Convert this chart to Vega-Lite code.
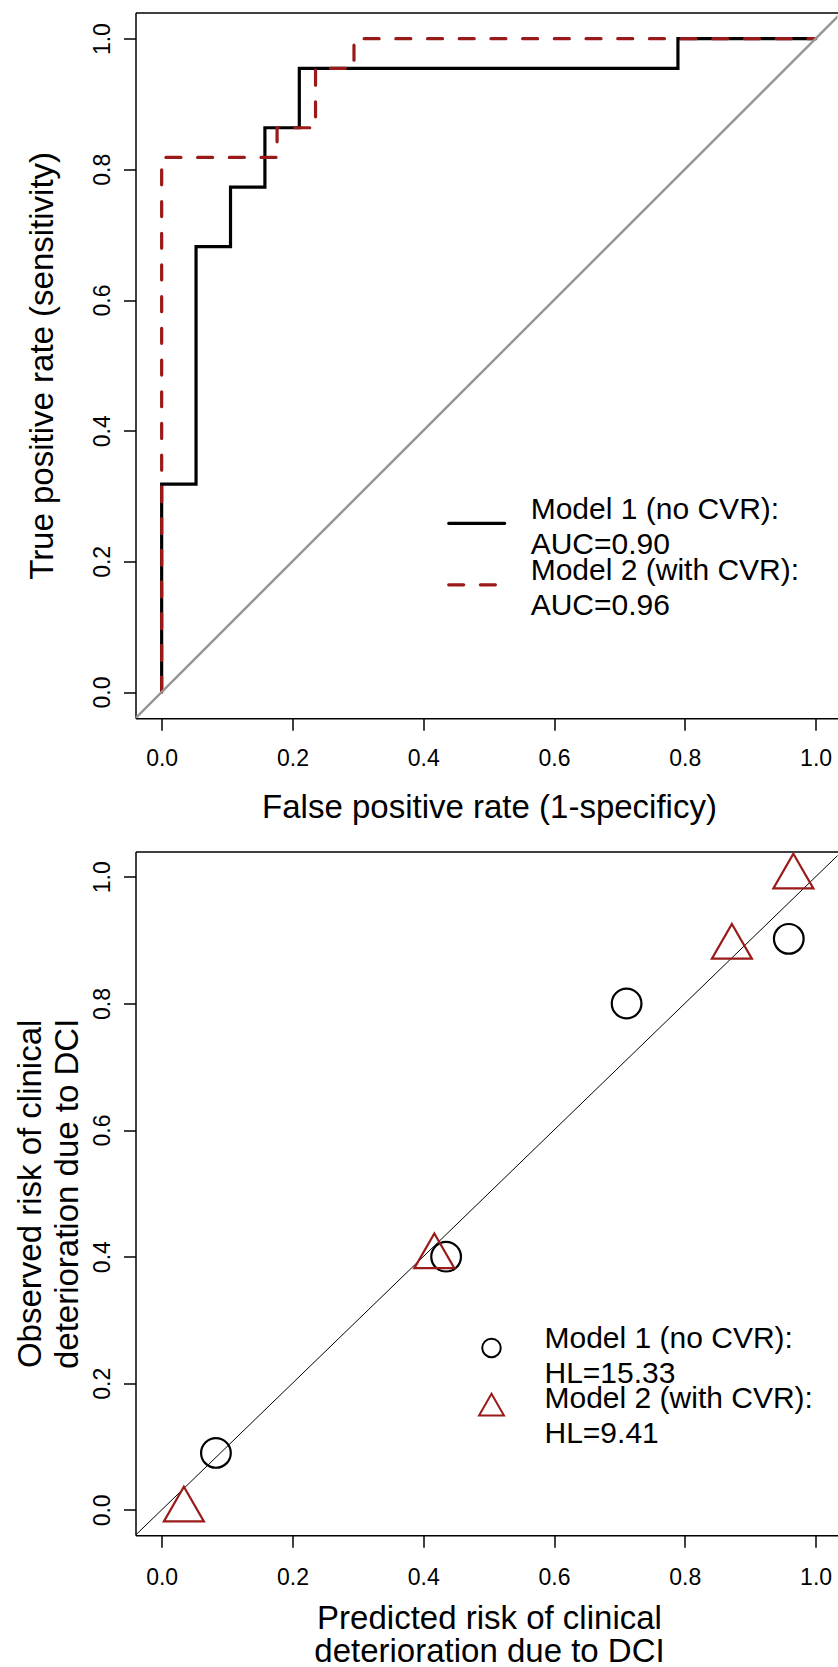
{
  "$schema": "https://vega.github.io/schema/vega-lite/v6.json",
  "background": "white",
  "padding": {"left": 14.5, "top": 12.5, "right": 0, "bottom": 0},
  "bounds": "flush",
  "spacing": 133,
  "config": {
    "font": "Liberation Sans",
    "view": {"stroke": null},
    "style": {"guide-label": {"lineHeight": 35}},
    "axis": {
      "grid": false,
      "domainColor": "black",
      "domainWidth": 1.5,
      "tickColor": "black",
      "tickWidth": 1.5,
      "tickSize": 12,
      "labelColor": "black",
      "labelFontSize": 23,
      "labelFont": "Liberation Sans",
      "labelFlush": false,
      "labelOverlap": false,
      "titleFont": "Liberation Sans",
      "titleFontSize": 33,
      "titleFontWeight": "normal",
      "titleColor": "black"
    },
    "legend": {
      "labelFont": "Liberation Sans",
      "labelColor": "black",
      "labelFontSize": 30,
      "labelLimit": 0,
      "padding": 0,
      "labelBaseline": "alphabetic"
    }
  },
  "resolve": {"scale": {"color": "independent", "shape": "independent", "strokeDash": "independent"}},
  "datasets": {
    "roc": [
      {"model": "Model 1 (no CVR):|AUC=0.90", "i": 1, "fpr": 0.0, "tpr": 0.0},
      {"model": "Model 1 (no CVR):|AUC=0.90", "i": 2, "fpr": 0.0, "tpr": 0.3182},
      {"model": "Model 1 (no CVR):|AUC=0.90", "i": 3, "fpr": 0.0526, "tpr": 0.3182},
      {"model": "Model 1 (no CVR):|AUC=0.90", "i": 4, "fpr": 0.0526, "tpr": 0.6818},
      {"model": "Model 1 (no CVR):|AUC=0.90", "i": 5, "fpr": 0.1053, "tpr": 0.6818},
      {"model": "Model 1 (no CVR):|AUC=0.90", "i": 6, "fpr": 0.1053, "tpr": 0.7727},
      {"model": "Model 1 (no CVR):|AUC=0.90", "i": 7, "fpr": 0.1579, "tpr": 0.7727},
      {"model": "Model 1 (no CVR):|AUC=0.90", "i": 8, "fpr": 0.1579, "tpr": 0.8636},
      {"model": "Model 1 (no CVR):|AUC=0.90", "i": 9, "fpr": 0.2105, "tpr": 0.8636},
      {"model": "Model 1 (no CVR):|AUC=0.90", "i": 10, "fpr": 0.2105, "tpr": 0.9545},
      {"model": "Model 1 (no CVR):|AUC=0.90", "i": 11, "fpr": 0.7895, "tpr": 0.9545},
      {"model": "Model 1 (no CVR):|AUC=0.90", "i": 12, "fpr": 0.7895, "tpr": 1.0},
      {"model": "Model 1 (no CVR):|AUC=0.90", "i": 13, "fpr": 1.0, "tpr": 1.0},
      {"model": "Model 2 (with CVR):|AUC=0.96", "i": 1, "fpr": 0.0, "tpr": 0.0},
      {"model": "Model 2 (with CVR):|AUC=0.96", "i": 2, "fpr": 0.0, "tpr": 0.8182},
      {"model": "Model 2 (with CVR):|AUC=0.96", "i": 3, "fpr": 0.1765, "tpr": 0.8182},
      {"model": "Model 2 (with CVR):|AUC=0.96", "i": 4, "fpr": 0.1765, "tpr": 0.8636},
      {"model": "Model 2 (with CVR):|AUC=0.96", "i": 5, "fpr": 0.2353, "tpr": 0.8636},
      {"model": "Model 2 (with CVR):|AUC=0.96", "i": 6, "fpr": 0.2353, "tpr": 0.9545},
      {"model": "Model 2 (with CVR):|AUC=0.96", "i": 7, "fpr": 0.2941, "tpr": 0.9545},
      {"model": "Model 2 (with CVR):|AUC=0.96", "i": 8, "fpr": 0.2941, "tpr": 1.0},
      {"model": "Model 2 (with CVR):|AUC=0.96", "i": 9, "fpr": 1.0, "tpr": 1.0}
    ],
    "diag1": [
      {"fpr": -0.04, "tpr": -0.04},
      {"fpr": 1.04, "tpr": 1.04}
    ],
    "cal": [
      {"series": "Model 1 (no CVR):|HL=15.33", "pred": 0.083, "obs": 0.09},
      {"series": "Model 1 (no CVR):|HL=15.33", "pred": 0.435, "obs": 0.40},
      {"series": "Model 1 (no CVR):|HL=15.33", "pred": 0.711, "obs": 0.80},
      {"series": "Model 1 (no CVR):|HL=15.33", "pred": 0.959, "obs": 0.902},
      {"series": "Model 2 (with CVR):|HL=9.41", "pred": 0.034, "obs": 0.0},
      {"series": "Model 2 (with CVR):|HL=9.41", "pred": 0.417, "obs": 0.40},
      {"series": "Model 2 (with CVR):|HL=9.41", "pred": 0.872, "obs": 0.889},
      {"series": "Model 2 (with CVR):|HL=9.41", "pred": 0.966, "obs": 1.0}
    ],
    "diag2": [
      {"pred": -0.04, "obs": -0.04},
      {"pred": 1.04, "obs": 1.04}
    ]
  },
  "vconcat": [
    {
      "width": 702,
      "height": 705.7,
      "resolve": {"axis": {"x": "independent"}},
      "layer": [
        {
          "data": {"name": "roc"},
          "mark": {"type": "line", "strokeWidth": 3.2, "strokeCap": "round"},
          "encoding": {
            "x": {
              "field": "fpr", "type": "quantitative",
              "scale": {"domain": [-0.04, 1.0335], "nice": false, "zero": false},
              "axis": {
                "orient": "bottom",
                "values": [0, 0.2, 0.4, 0.6, 0.8, 1.0],
                "format": ".1f",
                "labelPadding": 17.4,
                "title": "False positive rate (1-specificy)",
                "titleBaseline": "alphabetic",
                "titleX": 353.5,
                "titleY": 99
              }
            },
            "y": {
              "field": "tpr", "type": "quantitative",
              "scale": {"domain": [-0.04, 1.04], "nice": false, "zero": false},
              "axis": {
                "values": [0, 0.2, 0.4, 0.6, 0.8, 1.0],
                "format": ".1f",
                "labelAngle": 270,
                "labelAlign": "center",
                "labelBaseline": "bottom",
                "labelPadding": 9.4,
                "title": "True positive rate (sensitivity)",
                "titleAngle": 270,
                "titleBaseline": "alphabetic",
                "titleAlign": "center",
                "titleX": -83
              }
            },
            "color": {
              "field": "model", "type": "nominal",
              "scale": {"domain": ["Model 1 (no CVR):|AUC=0.90", "Model 2 (with CVR):|AUC=0.96"], "range": ["#000000", "#9A1A1A"]},
              "legend": {
                "orient": "none",
                "legendX": 325.2,
                "legendY": 494.8,
                "title": null,
                "symbolType": "M-2,0L2,0",
                "symbolSize": 784,
                "symbolStrokeWidth": 3.2,
                "labelOffset": 38,
                "rowPadding": -4.5,
                "labelExpr": "split(datum.label, '|')",
                "encode": {
                  "labels": {"update": {"lineHeight": {"value": 35}, "dy": {"value": -4.5}}},
                  "symbols": {"update": {"strokeCap": {"value": "round"}}}
                }
              }
            },
            "strokeDash": {
              "field": "model", "type": "nominal",
              "scale": {"domain": ["Model 1 (no CVR):|AUC=0.90", "Model 2 (with CVR):|AUC=0.96"], "range": [[1, 0], [15, 16.7]]}
            },
            "order": {"field": "i", "type": "quantitative"}
          }
        },
        {
          "data": {"name": "diag1"},
          "mark": {"type": "line", "color": "#969696", "strokeWidth": 2.5, "clip": true},
          "encoding": {
            "x": {
              "field": "fpr", "type": "quantitative",
              "scale": {"domain": [-0.04, 1.0335], "nice": false, "zero": false},
              "axis": {"orient": "top", "labels": false, "ticks": false, "title": null, "domain": true}
            },
            "y": {"field": "tpr", "type": "quantitative"}
          }
        }
      ]
    },
    {
      "width": 702,
      "height": 683.7,
      "resolve": {"axis": {"x": "independent"}},
      "layer": [
        {
          "data": {"name": "diag2"},
          "mark": {"type": "line", "color": "#000000", "strokeWidth": 1, "clip": true},
          "encoding": {
            "x": {
              "field": "pred", "type": "quantitative",
              "scale": {"domain": [-0.04, 1.0335], "nice": false, "zero": false},
              "axis": {"orient": "top", "labels": false, "ticks": false, "title": null, "domain": true}
            },
            "y": {
              "field": "obs", "type": "quantitative",
              "scale": {"domain": [-0.04, 1.04], "nice": false, "zero": false},
              "axis": {
                "values": [0, 0.2, 0.4, 0.6, 0.8, 1.0],
                "format": ".1f",
                "labelAngle": 270,
                "labelAlign": "center",
                "labelBaseline": "bottom",
                "labelPadding": 9.4,
                "title": ["Observed risk of clinical", "deterioration due to DCI"],
                "titleAngle": 270,
                "titleBaseline": "alphabetic",
                "titleAlign": "center",
                "titleLineHeight": 37,
                "titleX": -95
              }
            }
          }
        },
        {
          "data": {"name": "cal"},
          "mark": {"type": "point", "filled": false, "strokeWidth": 2.2, "size": 882, "opacity": 1},
          "encoding": {
            "x": {
              "field": "pred", "type": "quantitative",
              "scale": {"domain": [-0.04, 1.0335], "nice": false, "zero": false},
              "axis": {
                "orient": "bottom",
                "values": [0, 0.2, 0.4, 0.6, 0.8, 1.0],
                "format": ".1f",
                "labelPadding": 19,
                "title": ["Predicted risk of clinical", "deterioration due to DCI"],
                "titleBaseline": "alphabetic",
                "titleLineHeight": 33.5,
                "titleX": 353.5,
                "titleY": 93
              }
            },
            "y": {"field": "obs", "type": "quantitative"},
            "color": {
              "field": "series", "type": "nominal",
              "scale": {"domain": ["Model 1 (no CVR):|HL=15.33", "Model 2 (with CVR):|HL=9.41"], "range": ["#000000", "#9A1A1A"]},
              "legend": {
                "orient": "none",
                "legendX": 341,
                "legendY": 481.4,
                "title": null,
                "symbolSize": 342,
                "symbolStrokeWidth": 2,
                "labelOffset": 38,
                "rowPadding": -4.7,
                "labelExpr": "split(datum.label, '|')",
                "encode": {
                  "labels": {"update": {"lineHeight": {"value": 35}, "dy": {"value": -4.5}}}
                }
              }
            },
            "shape": {
              "field": "series", "type": "nominal",
              "scale": {"domain": ["Model 1 (no CVR):|HL=15.33", "Model 2 (with CVR):|HL=9.41"], "range": ["circle", "M0,-1.555L1.347,0.778L-1.347,0.778Z"]}
            }
          }
        }
      ]
    }
  ]
}
